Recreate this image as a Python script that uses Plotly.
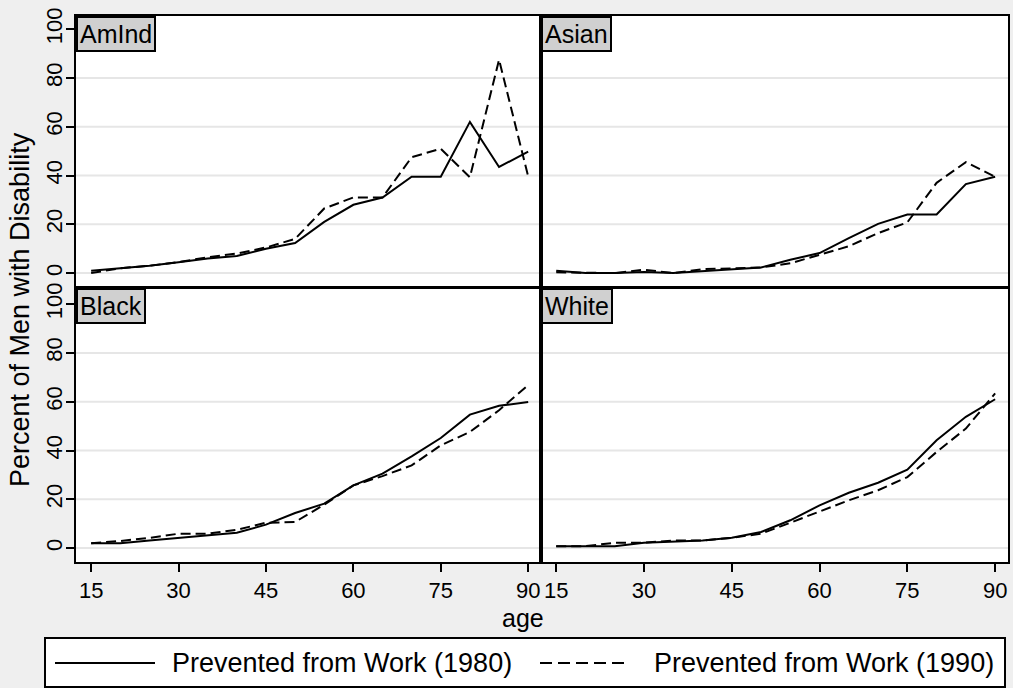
import plotly.graph_objects as go

# ---------------- data ----------------
ages = [15, 20, 25, 30, 35, 40, 45, 50, 55, 60, 65, 70, 75, 80, 85, 90]
groups = ["AmInd", "Asian", "Black", "White"]

amind_1980 = [1, 2, 3, 4.4, 6, 7, 10, 12.3, 21, 28, 31, 39.5, 39.5, 62, 43.5, 49.8]
amind_1990 = [0, 2, 3, 4.5, 6.5, 8, 10.5, 14, 26.5, 31, 31, 47.5, 51, 39.3, 87.5, 39.6]
asian_1980 = [1, 0, 0, 0.5, 0, 0.7, 1.6, 2.3, 5.5, 8.2, 14.3, 20.2, 24, 24, 36.5, 39.5]
asian_1990 = [0.3, 0, 0, 1.4, 0, 1.6, 2, 2.3, 4, 7.5, 11, 16.4, 20.8, 37, 45.5, 39.5]
black_1980 = [2, 2, 3.1, 4.2, 5.2, 6.3, 9.6, 14.4, 18.2, 25.7, 30.5, 37.6, 45.1, 54.7, 58.3, 59.9]
black_1990 = [2, 2.9, 4.2, 5.9, 5.9, 7.5, 10.4, 10.7, 17.8, 25.7, 29.5, 33.9, 42.1, 47.6, 56.5, 66.8]
white_1980 = [0.8, 0.8, 0.8, 2.2, 2.5, 3.1, 4.2, 6.6, 11.4, 17.5, 22.7, 26.8, 32.1, 44.2, 53.8, 61]
white_1990 = [0.8, 0.8, 2.2, 2.2, 3.1, 3.1, 4.2, 5.9, 10.4, 15, 19.6, 23.7, 29.1, 39.4, 49, 63.4]

series_names = ["Prevented from Work (1980)", "Prevented from Work (1990)"]
x_ticks = [15, 30, 45, 60, 75, 90]
y_ticks = [0, 20, 40, 60, 80, 100]
grid_vals = [0, 20, 40, 60, 80]

values_1980 = [amind_1980, asian_1980, black_1980, white_1980]
values_1990 = [amind_1990, asian_1990, black_1990, white_1990]

# ---------------- layout helpers ----------------
W, H = 1013, 688
FONT = "Liberation Sans, Arial, sans-serif"
BG = "#efefef"
DASH = "10px,5px"


def fx(p):
    return p / W


def fy(p):
    return 1 - p / H


col_dom = [[fx(76), fx(541)], [fx(541), fx(1008)]]
row_dom = [[fy(287), fy(16)], [fy(562), fy(288)]]  # top row, bottom row

fig = go.Figure()

for i, g in enumerate(groups):
    r, c = divmod(i, 2)
    ax = "" if i == 0 else str(i + 1)
    xa, ya = "x" + ax, "y" + ax
    fig.add_trace(go.Scatter(
        x=ages, y=values_1980[i], mode="lines", name=series_names[0],
        legendgroup="s1980", showlegend=False,
        line=dict(color="black", width=2), xaxis=xa, yaxis=ya))
    fig.add_trace(go.Scatter(
        x=ages, y=values_1990[i], mode="lines", name=series_names[1],
        legendgroup="s1990", showlegend=False,
        line=dict(color="black", width=2, dash=DASH), xaxis=xa, yaxis=ya))

    bottom = r == 1
    left = c == 0
    yr = [-5.7, 105.4] if r == 0 else [-5.7, 106.6]
    fig.layout["xaxis" + ax] = dict(
        domain=col_dom[c], anchor=ya, range=[12.4, 92.2], automargin=False,
        showgrid=False, zeroline=False,
        showline=True, mirror=True, linecolor="black", linewidth=2,
        tickvals=x_ticks if bottom else [], ticks="outside" if bottom else "",
        ticklen=8, tickwidth=2, tickcolor="black",
        showticklabels=bottom, tickfont=dict(size=22, color="black", family=FONT),
    )
    fig.layout["yaxis" + ax] = dict(
        domain=row_dom[r], anchor=xa, range=yr, automargin=False,
        showgrid=False, zeroline=False,
        showline=True, mirror=True, linecolor="black", linewidth=2,
        tickvals=y_ticks if left else [], ticks="outside" if left else "",
        ticklen=8, tickwidth=2, tickcolor="black", tickangle=-90,
        ticklabelstandoff=-5,
        showticklabels=left, tickfont=dict(size=22, color="black", family=FONT),
    )
    for gv in grid_vals:
        fig.add_shape(type="line", xref=xa + " domain", yref=ya,
                      x0=0, x1=1, y0=gv, y1=gv, layer="below",
                      line=dict(color="#e6e6e6", width=2))
    fig.add_annotation(
        text=g, xref=xa + " domain", yref=ya + " domain", x=0, y=1,
        xanchor="left", yanchor="top", showarrow=False,
        font=dict(size=25, color="black", family=FONT),
        bgcolor="#d0d0d0", bordercolor="black", borderwidth=2, borderpad=2,
    )

fig.add_annotation(text="Percent of Men with Disability", xref="paper", yref="paper",
                   x=fx(20), y=fy(310), textangle=-90, showarrow=False,
                   xanchor="center", yanchor="middle",
                   font=dict(size=27, color="black", family=FONT))
fig.add_annotation(text="age", xref="paper", yref="paper",
                   x=fx(523), y=fy(618), showarrow=False,
                   xanchor="center", yanchor="middle",
                   font=dict(size=25, color="black", family=FONT))

# ---------------- legend (key box at the bottom) ----------------
LEG_Y = 663
fig.add_shape(type="rect", xref="paper", yref="paper",
              x0=fx(45), x1=fx(1005), y0=fy(687), y1=fy(638),
              line=dict(color="black", width=2), fillcolor="white", layer="above")
fig.add_shape(type="line", xref="paper", yref="paper",
              x0=fx(55), x1=fx(155), y0=fy(LEG_Y), y1=fy(LEG_Y),
              line=dict(color="black", width=2), layer="above")
fig.add_shape(type="line", xref="paper", yref="paper",
              x0=fx(540), x1=fx(628), y0=fy(LEG_Y), y1=fy(LEG_Y),
              line=dict(color="black", width=2, dash="12px,6px"), layer="above")
for txt, xpos in zip(series_names, [170, 652]):
    fig.add_annotation(text=txt, xref="paper", yref="paper",
                       x=fx(xpos), y=fy(LEG_Y), showarrow=False,
                       xanchor="left", yanchor="middle",
                       font=dict(size=27, color="black", family=FONT))

fig.update_layout(
    width=W, height=H,
    margin=dict(l=0, r=0, t=0, b=0, autoexpand=False),
    paper_bgcolor=BG, plot_bgcolor="white",
    font=dict(family=FONT, color="black"),
    showlegend=False,
)

fig.write_html("out.html")
